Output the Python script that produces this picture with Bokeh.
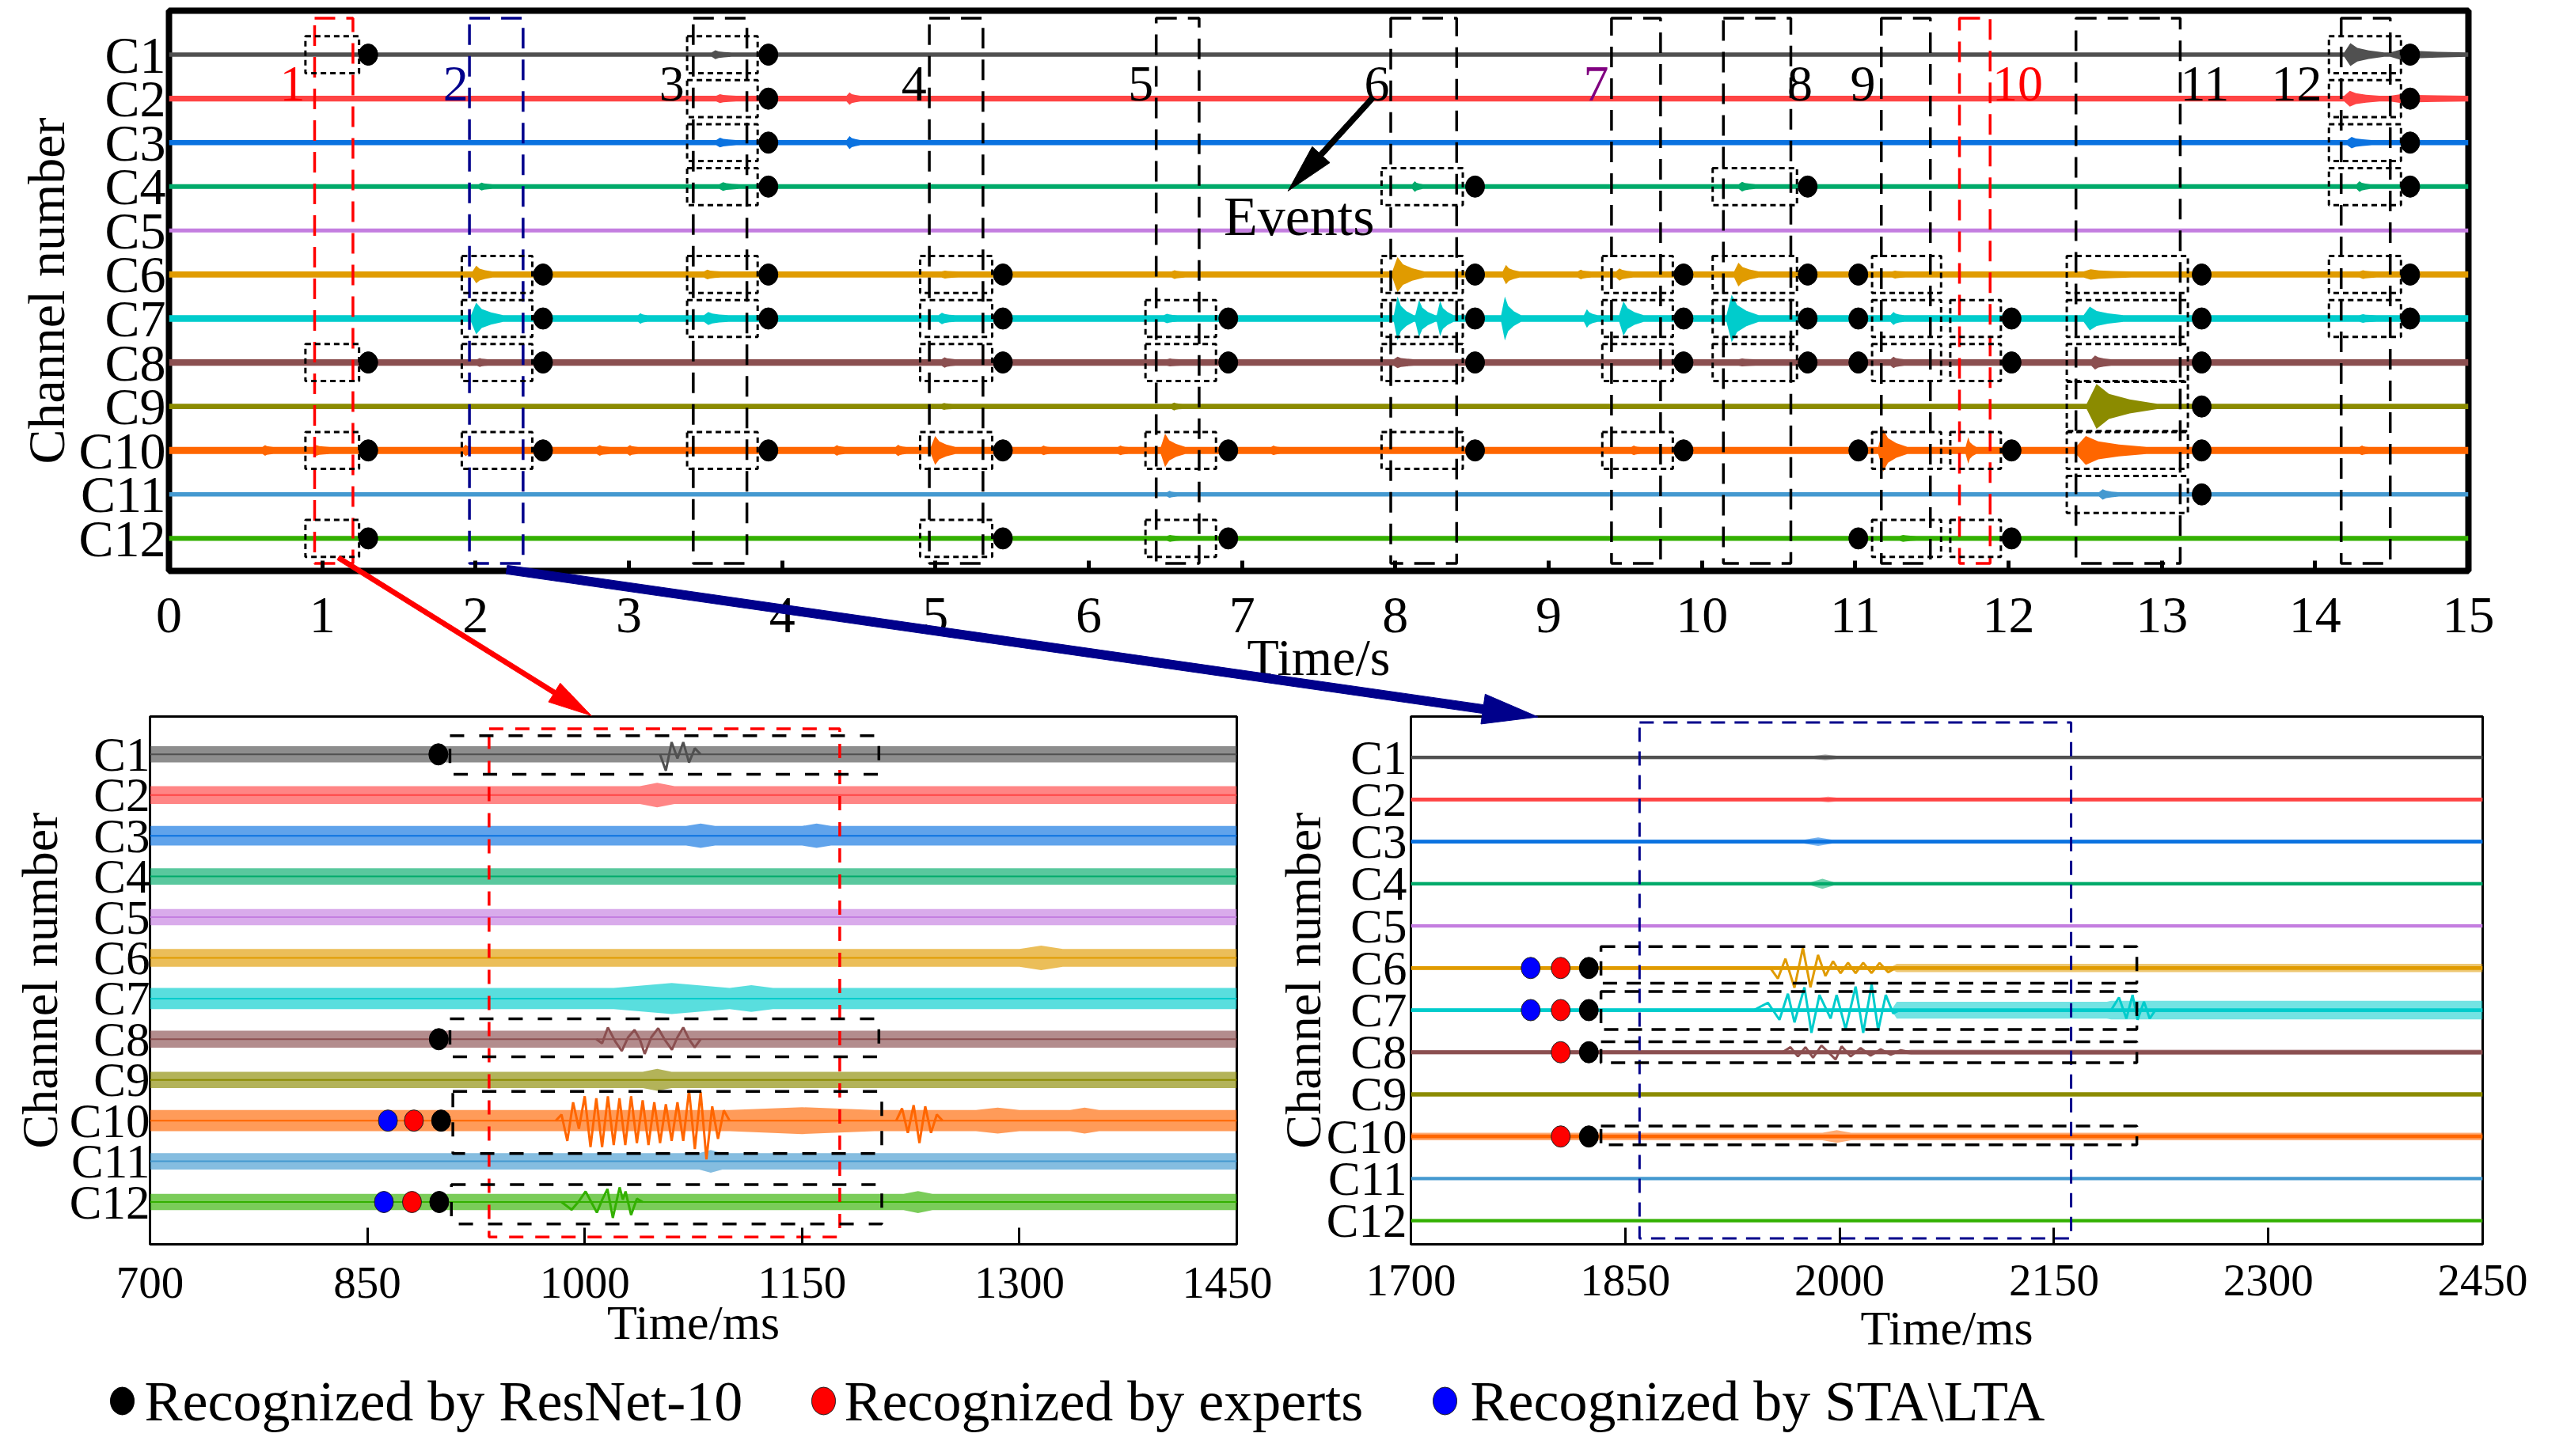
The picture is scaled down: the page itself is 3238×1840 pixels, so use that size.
import math
from bokeh.plotting import figure
from bokeh.layouts import row
from bokeh.models import Range1d, FixedTicker, GridBox
from bokeh.core.properties import value
from bokeh.embed import file_html
from bokeh.resources import INLINE

FONT = "Liberation Serif"
CHANNELS = ["C%d" % i for i in range(1, 13)]
CH_COLORS = ["#505050", "#ff4444", "#0a72e0", "#00aa6a", "#c47ee0", "#e09b00",
             "#00cccc", "#8b4f50", "#8b8b00", "#ff6600", "#4499d0", "#33b000"]

# ---------------- top panel: 0-15 s ----------------
TOP_XTICKS = list(range(0, 16))
TOP_NOISE = [0.05, 0.065, 0.06, 0.055, 0.045, 0.07, 0.075, 0.075, 0.06, 0.08, 0.05, 0.055]
# bursts per channel: (onset s, half amplitude in channel units, duration s)
TOP_BURSTS = [
    [(3.55, 0.10, 0.12), (14.2, 0.26, 0.25), (14.5, 0.12, 0.5)],
    [(3.58, 0.10, 0.12), (4.43, 0.14, 0.08), (14.2, 0.18, 0.22), (14.5, 0.10, 0.5)],
    [(3.58, 0.11, 0.12), (4.43, 0.15, 0.08), (14.22, 0.13, 0.15)],
    [(2.03, 0.09, 0.08), (3.6, 0.10, 0.12), (8.12, 0.12, 0.06), (10.25, 0.11, 0.1), (14.28, 0.12, 0.08)],
    [],
    [(1.99, 0.20, 0.12), (3.5, 0.11, 0.1), (5.05, 0.09, 0.1), (6.55, 0.10, 0.08), (7.99, 0.40, 0.2),
     (8.71, 0.22, 0.1), (9.2, 0.11, 0.08), (9.45, 0.14, 0.1), (10.22, 0.27, 0.15), (11.25, 0.09, 0.08),
     (12.5, 0.12, 0.3), (14.3, 0.10, 0.1)],
    [(1.98, 0.36, 0.2), (3.07, 0.12, 0.05), (3.5, 0.15, 0.15), (5.03, 0.13, 0.1), (6.5, 0.11, 0.08),
     (8.0, 0.50, 0.12), (8.14, 0.42, 0.12), (8.28, 0.40, 0.1), (8.7, 0.50, 0.12), (9.24, 0.21, 0.08),
     (9.47, 0.39, 0.15), (10.17, 0.54, 0.2), (11.24, 0.15, 0.08), (12.5, 0.27, 0.25), (14.3, 0.10, 0.1)],
    [(2.02, 0.10, 0.06), (5.05, 0.12, 0.08), (6.52, 0.09, 0.08), (8.0, 0.13, 0.12), (10.25, 0.09, 0.1),
     (11.24, 0.13, 0.08), (12.55, 0.16, 0.12)],
    [(5.05, 0.08, 0.06), (6.55, 0.09, 0.06), (12.52, 0.51, 0.45)],
    [(0.62, 0.12, 0.06), (0.95, 0.12, 0.1), (1.93, 0.13, 0.05), (2.8, 0.12, 0.08), (3.0, 0.12, 0.06),
     (4.35, 0.12, 0.06), (4.75, 0.13, 0.06), (4.98, 0.33, 0.15), (5.7, 0.11, 0.05), (6.2, 0.11, 0.06),
     (6.48, 0.38, 0.15), (7.2, 0.11, 0.05), (9.55, 0.11, 0.05), (11.16, 0.48, 0.18), (11.73, 0.30, 0.06),
     (12.45, 0.33, 0.45), (14.3, 0.11, 0.05)],
    [(6.52, 0.08, 0.06), (12.6, 0.12, 0.12)],
    [(6.52, 0.08, 0.08), (11.3, 0.08, 0.1)],
]
EVENT_NAMES = ["1", "2", "3", "4", "5", "6", "7", "8", "9", "10", "11", "12"]
EVENT_NAME_X = [0.805, 1.87, 3.28, 4.86, 6.34, 7.88, 9.31, 10.64, 11.05, 12.06, 13.28, 13.88]
EVENT_NAME_Y = 1.66
EVENT_NAME_COLORS = ["#ff0000", "#00008b", "black", "black", "black", "black", "#800080",
                     "black", "black", "#ff0000", "black", "black"]
EVENT_START = [0.95, 1.96, 3.42, 4.96, 6.44, 7.97, 9.41, 10.14, 11.17, 11.68, 12.44, 14.17]
EVENT_END = [1.20, 2.31, 3.77, 5.31, 6.72, 8.40, 9.73, 10.58, 11.49, 11.88, 13.12, 14.49]
EVENT_COLORS = ["#ff0000", "#00008b", "black", "black", "black", "black", "black",
                "black", "black", "#ff0000", "black", "black"]
EVENT_TOP, EVENT_BOTTOM = 0.17, 12.57
PICK_START = [0.89, 1.91, 3.38, 4.90, 6.37, 7.91, 9.35, 10.07, 11.11, 11.62, 12.38, 14.09]
PICK_END = [1.24, 2.37, 3.84, 5.37, 6.83, 8.44, 9.81, 10.62, 11.56, 11.95, 13.17, 14.56]
PICK_TIME = [1.30, 2.44, 3.91, 5.44, 6.91, 8.52, 9.88, 10.69, 11.02, 12.02, 13.26, 14.62]
PICK_CHANNELS = [[1, 8, 10, 12], [6, 7, 8, 10], [1, 2, 3, 4, 6, 7, 10], [6, 7, 8, 10, 12],
                 [7, 8, 10, 12], [4, 6, 7, 8, 10], [6, 7, 8, 10], [4, 6, 7, 8],
                 [6, 7, 8, 10, 12], [7, 8, 10, 12], [6, 7, 8, 9, 10, 11], [1, 2, 3, 4, 6, 7]]
PICK_HALF = 0.42
PICK_HALF_OVERRIDE = {(10, 9): 0.56}
EVENTS_TEXT = (6.88, 4.68)
# arrows in top-panel units: (x0 s, y0 channel, x1 s, y1 channel, colour, shaft px, head length px, head width px)
ARROWS = [(7.85, 1.99, 7.30, 4.10, "#000000", 7, 62, 30),
          (1.105, 12.44, 2.755, 16.03, "#ff0000", 6, 55, 28),
          (2.203, 12.71, 8.93, 16.06, "#00008b", 11, 70, 38)]

# ---------------- bottom-left: 700-1450 ms ----------------
BL_TICKS = [700, 850, 1000, 1150, 1300, 1450]
BL_NOISE = [0.20, 0.22, 0.24, 0.20, 0.20, 0.22, 0.26, 0.21, 0.20, 0.26, 0.20, 0.20]
# local amplitude swells: (centre ms, half amplitude, half width ms)
BL_BUMPS = {2: [(1050, 0.30, 12)], 3: [(1080, 0.30, 10), (1160, 0.30, 10)], 6: [(1315, 0.30, 15)],
            7: [(1060, 0.38, 40), (1115, 0.33, 15)], 9: [(1050, 0.27, 10)],
            10: [(1150, 0.33, 50), (1285, 0.32, 15), (1345, 0.32, 10)],
            11: [(1087, 0.28, 8)], 12: [(1230, 0.27, 10)]}
BL_WAVES = [
    (1, [1052, 1056, 1060, 1064, 1068, 1072, 1076, 1080], [0, -0.4, 0.3, -0.1, 0.3, -0.2, 0.15, 0]),
    (8, [1008, 1012, 1016, 1021, 1025.6, 1030, 1034.4, 1038, 1041.4, 1046, 1050.7, 1055, 1060.2, 1064,
         1068, 1072, 1075.9, 1080],
     [0, -0.1, 0.29, -0.05, -0.29, 0.05, 0.23, 0, -0.36, 0.05, 0.27, 0, -0.26, 0.05, 0.29, 0, -0.2, 0]),
    (10, [980, 984, 988, 992, 996, 1000, 1004, 1008, 1012, 1016, 1020, 1024, 1028, 1032, 1036, 1040, 1044,
          1048, 1052, 1056, 1060, 1064, 1068, 1072, 1076, 1080, 1084, 1088, 1092, 1096, 1100],
     [0, 0.15, -0.5, 0.45, -0.2, 0.6, -0.65, 0.55, -0.65, 0.6, -0.6, 0.55, -0.6, 0.6, -0.55, 0.5, -0.6,
      0.45, -0.55, 0.4, -0.5, 0.45, -0.5, 0.75, -0.7, 0.7, -0.95, 0.35, -0.45, 0.25, 0]),
    (10, [1215, 1219, 1223, 1227, 1231, 1235, 1239, 1243, 1247], [0, 0.3, -0.3, 0.38, -0.55, 0.35, -0.3, 0.15, 0]),
    (12, [984, 991, 996, 1000.6, 1004.5, 1008.4, 1012, 1015.7, 1019.4, 1024.1, 1026.3, 1028.2, 1032, 1036, 1040],
     [0, -0.19, 0.02, 0.26, 0, -0.26, 0.05, 0.32, -0.39, 0.36, 0.06, 0.26, -0.32, 0.08, 0]),
]
BL_WINDOW = (934, 1176, 0.37, 12.86)
BL_BOXES = [(1, 907, 1203, 0.46, 0.49), (8, 907, 1203, 0.50, 0.43),
            (10, 909, 1205, 0.72, 0.81), (12, 908, 1205, 0.43, 0.54)]
BL_DOTS = [(1, 899.0, "black"), (8, 899.3, "black"),
           (10, 864.2, "blue"), (10, 882.1, "red"), (10, 900.9, "black"),
           (12, 861.4, "blue"), (12, 880.8, "red"), (12, 899.6, "black")]

# ---------------- bottom-right: 1700-2450 ms ----------------
BR_TICKS = [1700, 1850, 2000, 2150, 2300, 2450]
BR_NOISE = [0.04, 0.045, 0.045, 0.04, 0.04, 0.045, 0.045, 0.045, 0.05, 0.045, 0.04, 0.04]
# ripple plateaus: (start ms, end ms, half amplitude)
BR_RIPPLES = {6: [(2040, 2450, 0.10)], 7: [(2040, 2190, 0.20), (2190, 2450, 0.22)],
              8: [(2050, 2450, 0.06)], 10: [(1700, 2450, 0.09)]}
BR_BUMPS = {1: [(1990, 0.07, 8)], 2: [(1992, 0.07, 6)], 3: [(1985, 0.10, 10)], 4: [(1988, 0.12, 8)],
            10: [(1998, 0.15, 10)]}
BR_WAVES = [
    (6, [1951.5, 1956.8, 1962.1, 1968.4, 1974.3, 1979.6, 1984.9, 1990.1, 1995.4, 2000.7, 2005.9, 2011.2,
         2016.5, 2022.4, 2028, 2034, 2039.3],
     [0, -0.25, 0.22, -0.47, 0.48, -0.46, 0.31, -0.19, 0.16, -0.125, 0.125, -0.125, 0.125, -0.12, 0.12, -0.1, 0]),
    (7, [1940, 1949.8, 1957.9, 1963.8, 1968.4, 1975.4, 1980.3, 1985.9, 1993.7, 1997.9, 2004.2, 2011.2,
         2016.5, 2022.4, 2027, 2032.3, 2037.5, 2042],
     [0, 0.175, -0.23, 0.39, -0.29, 0.54, -0.54, 0.36, -0.2, 0.36, -0.45, 0.56, -0.54, 0.61, -0.48, 0.36, -0.08, 0]),
    (7, [2190, 2195.5, 2200.7, 2205, 2208.5, 2213, 2217, 2221], [0, 0.3, -0.2, 0.36, -0.23, 0.2, -0.2, 0]),
    (8, [1960, 1965.6, 1970.8, 1976.1, 1981.4, 1987.3, 1997.2, 2001.4, 2007.7, 2014.7, 2021.7, 2028.8,
         2035.8, 2042.8, 2049.8],
     [0, 0.12, -0.1, 0.12, -0.13, 0.16, -0.17, 0.14, -0.1, 0.1, -0.08, 0.07, -0.06, 0.05, 0]),
]
BR_WINDOW = (1860, 2162, 0.17, 12.42)
BR_BOXES = [(6, 1833, 2208, 0.51, 0.36), (7, 1833, 2208, 0.44, 0.46),
            (8, 1833, 2208, 0.25, 0.25), (10, 1833, 2208, 0.25, 0.20)]
BR_DOTS = [(6, 1783.8, "blue"), (6, 1804.8, "red"), (6, 1824.5, "black"),
           (7, 1783.8, "blue"), (7, 1804.8, "red"), (7, 1824.5, "black"),
           (8, 1804.8, "red"), (8, 1824.5, "black"),
           (10, 1804.8, "red"), (10, 1824.5, "black")]

LEGEND_LABELS = ["Recognized by ResNet-10", "Recognized by experts", "Recognized by STA\\LTA"]
LEGEND_KINDS = ["black", "red", "blue"]
DOT_COLORS = {"black": "#000000", "red": "#ff0000", "blue": "#0000ff"}

# layout (px)
TOP_W, TOP_H, TOP_MBL, TOP_MBR, TOP_MBT, TOP_MBB = 3222, 902, 213, 104, 13, 181
BOT_H = 922
BL_W = 1607
LEG_DOT_X = [154, 1040, 1825]
LEG_TEXT_X = [182, 1066, 1857]
LEG_Y = 1770


def spike(on, amp, dur, base):
    d = amp - base
    return [(on - 0.01, base), (on + 0.12 * dur, amp), (on + 0.3 * dur, base + 0.5 * d),
            (on + 0.6 * dur, base + 0.22 * d), (on + dur, base)]


def diamond(c, amp, hw):
    return [(c - hw, 0.0), (c, amp), (c + hw, 0.0)]


def plateau(s, e, amp):
    return [(s - 3, 0.0), (s, amp), (e, amp), (e + 3, 0.0)]


def interp(pts, t):
    if t < pts[0][0] or t > pts[-1][0]:
        return None
    for (ta, va), (tb, vb) in zip(pts, pts[1:]):
        if ta <= t <= tb:
            return va if tb == ta else va + (vb - va) * (t - ta) / (tb - ta)
    return None


def band(p, ch, t0, t1, base, shapes, color, alpha):
    keys = {t0, t1}
    for s in shapes:
        keys.update(t for t, _ in s)
    ts = sorted(k for k in keys if t0 <= k <= t1)
    env = []
    for t in ts:
        vals = [base] + [v for v in (interp(s, t) for s in shapes) if v is not None]
        env.append(max(vals))
    p.varea(x=ts, y1=[ch - e for e in env], y2=[ch + e for e in env],
            fill_color=color, fill_alpha=alpha)


def style(p, xticks, tick_font, ch_font, lab_font, outline_w, tick_len, tick_w,
          xlabel, x_std, x_lstd, y_std, y_lstd, ylab_font):
    p.outline_line_color = "black"
    p.outline_line_width = outline_w
    p.outline_line_alpha = 1
    p.grid.visible = False
    p.background_fill_color = "white"
    p.border_fill_color = "white"
    xa = p.xaxis[0]
    xa.ticker = FixedTicker(ticks=xticks)
    xa.axis_line_color = None
    xa.major_tick_in = tick_len
    xa.major_tick_out = 0
    xa.major_tick_line_width = tick_w
    xa.major_tick_line_color = "black"
    xa.minor_tick_line_color = None
    xa.minor_tick_in = 0
    xa.minor_tick_out = 0
    xa.major_label_text_font = FONT
    xa.major_label_text_font_size = "%dpx" % tick_font
    xa.major_label_text_color = "black"
    xa.major_label_standoff = x_std
    xa.axis_label = xlabel
    xa.axis_label_text_font = FONT
    xa.axis_label_text_font_size = "%dpx" % lab_font
    xa.axis_label_text_font_style = "normal"
    xa.axis_label_text_color = "black"
    xa.axis_label_standoff = x_lstd
    ya = p.yaxis[0]
    ya.ticker = FixedTicker(ticks=list(range(1, 13)))
    ya.major_label_overrides = {i: CHANNELS[i - 1] for i in range(1, 13)}
    ya.axis_line_color = None
    ya.major_tick_line_color = None
    ya.minor_tick_line_color = None
    ya.major_tick_in = 0
    ya.major_tick_out = 0
    ya.minor_tick_in = 0
    ya.minor_tick_out = 0
    ya.major_label_text_font = FONT
    ya.major_label_text_font_size = "%dpx" % ch_font
    ya.major_label_text_color = "black"
    ya.major_label_standoff = y_std
    ya.axis_label = "Channel number"
    ya.axis_label_text_font = FONT
    ya.axis_label_text_font_size = "%dpx" % ylab_font
    ya.axis_label_text_font_style = "normal"
    ya.axis_label_text_color = "black"
    ya.axis_label_standoff = y_lstd


def dots(p, xs, ys, kinds, w=24, h=27, **kw):
    p.ellipse(x=xs, y=ys, width=w, height=h, width_units="screen", height_units="screen",
              fill_color=[DOT_COLORS[k] for k in kinds],
              line_color=["#000000" if k == "black" else "#222222" for k in kinds], line_width=1, **kw)


def arrow_poly(x0, y0, x1, y1, w, hl, hw, sx, sy):
    X0, Y0, X1, Y1 = x0 * sx, y0 * sy, x1 * sx, y1 * sy
    L = math.hypot(X1 - X0, Y1 - Y0)
    ux, uy = (X1 - X0) / L, (Y1 - Y0) / L
    nx, ny = -uy, ux
    bx, by = X1 - ux * hl, Y1 - uy * hl
    pts = [(X0 + nx * w / 2, Y0 + ny * w / 2), (bx + nx * w / 2, by + ny * w / 2),
           (bx + nx * hw / 2, by + ny * hw / 2), (X1, Y1),
           (bx - nx * hw / 2, by - ny * hw / 2), (bx - nx * w / 2, by - ny * w / 2),
           (X0 - nx * w / 2, Y0 - ny * w / 2)]
    return [q[0] / sx for q in pts], [q[1] / sy for q in pts]


# ================= top figure =================
TOP_YMAX = 12.74
top = figure(width=TOP_W, height=TOP_H, x_range=Range1d(0, 15), y_range=Range1d(TOP_YMAX, 0),
             output_backend="svg", toolbar_location=None,
             min_border_left=TOP_MBL, min_border_right=TOP_MBR,
             min_border_top=TOP_MBT, min_border_bottom=TOP_MBB)
style(top, TOP_XTICKS, 66, 66, 66, 8, 13, 5, "Time/s", 34, -8, 4, 1, 66)

for i in range(12):
    shapes = [spike(on, a, d, TOP_NOISE[i]) for on, a, d in TOP_BURSTS[i]]
    band(top, i + 1, 0, 15, TOP_NOISE[i], shapes, CH_COLORS[i], 1.0)

top.quad(left=EVENT_START, right=EVENT_END, top=[EVENT_TOP] * 12, bottom=[EVENT_BOTTOM] * 12,
         fill_alpha=0, line_color=EVENT_COLORS, line_width=3.5, line_dash="26 14")

pl, pr, pt, pb, dx, dy = [], [], [], [], [], []
for i in range(12):
    for ch in PICK_CHANNELS[i]:
        h = PICK_HALF_OVERRIDE.get((i, ch), PICK_HALF)
        pl.append(PICK_START[i]); pr.append(PICK_END[i])
        pt.append(ch - h); pb.append(ch + h)
        dx.append(PICK_TIME[i]); dy.append(ch)
top.quad(left=pl, right=pr, top=pt, bottom=pb, fill_alpha=0, line_color="black",
         line_width=3, line_dash="7 5")
dots(top, dx, dy, ["black"] * len(dx))

top.text(x=EVENT_NAME_X, y=[EVENT_NAME_Y] * 12, text=EVENT_NAMES, text_color=EVENT_NAME_COLORS,
         text_font=value(FONT), text_font_size="64px", text_align="center", text_baseline="middle")
top.text(x=[EVENTS_TEXT[0]], y=[EVENTS_TEXT[1]], text=["Events"], text_color="black",
         text_font=value(FONT), text_font_size="70px", text_align="left", text_baseline="middle")


# ================= bottom panels =================
def bottom_panel(width, x_range, y_range, ticks, mbl, mbr, mbt, mbb, x_std, x_lstd, y_std, y_lstd):
    p = figure(width=width, height=BOT_H, x_range=x_range, y_range=y_range,
               output_backend="svg", toolbar_location=None,
               min_border_left=mbl, min_border_right=mbr, min_border_top=mbt, min_border_bottom=mbb)
    style(p, ticks, 57, 61, 62, 3, 21, 3, "Time/ms", x_std, x_lstd, y_std, y_lstd, 64)
    return p


bl = bottom_panel(BL_W, Range1d(700, 1450), Range1d(13.04, 0.07), BL_TICKS,
                  189, 45, 2, BOT_H - 2 - 668, 29, -6, 0, -1)
for i in range(12):
    ch = i + 1
    shapes = [diamond(c, a, hw) for c, a, hw in BL_BUMPS.get(ch, [])]
    band(bl, ch, 700, 1450, BL_NOISE[i], shapes, CH_COLORS[i], 0.65)
    bl.line(x=[BL_TICKS[0], BL_TICKS[-1]], y=[ch, ch], line_color=CH_COLORS[i], line_width=2)
for ch, ts, vs in BL_WAVES:
    bl.line(x=ts, y=[ch - v for v in vs], line_color=CH_COLORS[ch - 1], line_width=3)
bl.quad(left=[BL_WINDOW[0]], right=[BL_WINDOW[1]], top=[BL_WINDOW[2]], bottom=[BL_WINDOW[3]],
        fill_alpha=0, line_color="#ff0000", line_width=3.5, line_dash="18 15")
bl.quad(left=[b[1] for b in BL_BOXES], right=[b[2] for b in BL_BOXES],
        top=[b[0] - b[3] for b in BL_BOXES], bottom=[b[0] + b[4] for b in BL_BOXES],
        fill_alpha=0, line_color="black", line_width=3.5, line_dash="18 19")
dots(bl, [d[1] for d in BL_DOTS], [d[0] for d in BL_DOTS], [d[2] for d in BL_DOTS])

br = bottom_panel(TOP_W - BL_W, Range1d(1700, 2450), Range1d(12.56, 0.03), BR_TICKS,
                  167, 86, 3, BOT_H - 3 - 669, 26, 4, 5, -9)
for i in range(12):
    ch = i + 1
    if ch in BR_RIPPLES or ch in BR_BUMPS:
        shapes = [plateau(s, e, a) for s, e, a in BR_RIPPLES.get(ch, [])]
        shapes += [diamond(c, a, hw) for c, a, hw in BR_BUMPS.get(ch, [])]
        band(br, ch, 1700, 2450, BR_NOISE[i], shapes, CH_COLORS[i], 0.55)
    band(br, ch, 1700, 2450, BR_NOISE[i], [], CH_COLORS[i], 1.0)
for ch, ts, vs in BR_WAVES:
    br.line(x=ts, y=[ch - v for v in vs], line_color=CH_COLORS[ch - 1], line_width=3)
br.quad(left=[BR_WINDOW[0]], right=[BR_WINDOW[1]], top=[BR_WINDOW[2]], bottom=[BR_WINDOW[3]],
        fill_alpha=0, line_color="#00008b", line_width=3, line_dash="18 12")
br.quad(left=[b[1] for b in BR_BOXES], right=[b[2] for b in BR_BOXES],
        top=[b[0] - b[3] for b in BR_BOXES], bottom=[b[0] + b[4] for b in BR_BOXES],
        fill_alpha=0, line_color="black", line_width=3.5, line_dash="18 12")
dots(br, [d[1] for d in BR_DOTS], [d[0] for d in BR_DOTS], [d[2] for d in BR_DOTS])

# ====== transparent full-page overlay: zoom arrows (top-panel units) and the legend (page px) ======
OV_H = TOP_H + BOT_H
SX = (TOP_W - TOP_MBL - TOP_MBR) / 15.0
SY = (TOP_H - TOP_MBT - TOP_MBB) / TOP_YMAX
ov = figure(width=TOP_W, height=OV_H,
            x_range=Range1d(-TOP_MBL / SX, (TOP_W - TOP_MBL) / SX),
            y_range=Range1d((OV_H - TOP_MBT) / SY, -TOP_MBT / SY),
            x_axis_type=None, y_axis_type=None, toolbar_location=None, output_backend="svg",
            min_border=0, min_border_left=0, min_border_right=0, min_border_top=0, min_border_bottom=0,
            outline_line_color=None, background_fill_alpha=0, border_fill_alpha=0)
ov.extra_x_ranges = {"px": Range1d(0, TOP_W)}
ov.extra_y_ranges = {"px": Range1d(OV_H, 0)}
ov.grid.visible = False
axs, ays, acs = [], [], []
for x0, y0, x1, y1, c, w, hl, hw in ARROWS:
    xs, ys = arrow_poly(x0, y0, x1, y1, w, hl, hw, SX, SY)
    axs.append(xs); ays.append(ys); acs.append(c)
ov.patches(xs=axs, ys=ays, fill_color=acs, line_color=acs, line_width=1)
dots(ov, LEG_DOT_X, [LEG_Y] * 3, LEGEND_KINDS, w=30, h=35, x_range_name="px", y_range_name="px")
ov.text(x=LEG_TEXT_X, y=[LEG_Y] * 3, text=LEGEND_LABELS, text_color="black",
        text_font=value(FONT), text_font_size="72px", text_align="left", text_baseline="middle",
        x_range_name="px", y_range_name="px")

page = GridBox(children=[(row(top), 0, 0), (row(bl, br), 1, 0), (row(ov), 0, 0, 2, 1)], spacing=0)
open("out.html", "w").write(file_html(page, INLINE))
